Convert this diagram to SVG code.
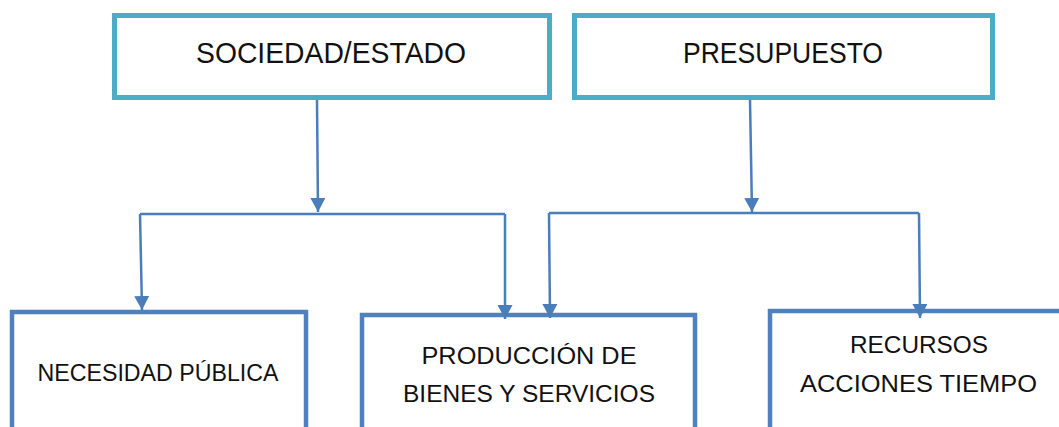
<svg xmlns="http://www.w3.org/2000/svg" width="1059" height="427" viewBox="0 0 1059 427">
<style>
.top{fill:#fff;stroke:#4BACC6;stroke-width:5}
.bot{fill:#fff;stroke:#4F81BD;stroke-width:4.5}
.con{fill:none;stroke:#4A7EBB;stroke-width:2.5}
text{font-family:"Liberation Sans",Arial,sans-serif;fill:#111;text-anchor:middle}
.t1{font-size:30px}
.t2{font-size:24.5px}
</style>
<defs>
<marker id="arr" markerUnits="userSpaceOnUse" markerWidth="15" markerHeight="15" refX="14" refY="7.5" orient="auto">
<path d="M0,0 L14,7.5 L0,15 Z" fill="#4A7EBB"/>
</marker>
</defs>
<g id="node-sociedad">
<rect class="top" x="114.5" y="15.5" width="435" height="82"/>
<text class="t1" x="331" y="63" textLength="270" lengthAdjust="spacingAndGlyphs">SOCIEDAD/ESTADO</text>
</g>
<g id="node-presupuesto">
<rect class="top" x="574.5" y="15.5" width="418" height="82"/>
<text class="t1" x="783" y="63" textLength="200" lengthAdjust="spacingAndGlyphs">PRESUPUESTO</text>
</g>
<g id="node-necesidad">
<rect class="bot" x="12" y="312" width="294" height="130"/>
<text class="t2" x="158" y="381" textLength="241" lengthAdjust="spacingAndGlyphs">NECESIDAD PÚBLICA</text>
</g>
<g id="node-produccion">
<rect class="bot" x="362" y="315" width="333" height="130"/>
<text class="t2" x="529" y="364" textLength="215" lengthAdjust="spacingAndGlyphs">PRODUCCIÓN DE</text>
<text class="t2" x="529" y="402" textLength="252" lengthAdjust="spacingAndGlyphs">BIENES Y SERVICIOS</text>
</g>
<g id="node-recursos">
<rect class="bot" x="770" y="311" width="300" height="130"/>
<text class="t2" x="919" y="353" textLength="138" lengthAdjust="spacingAndGlyphs">RECURSOS</text>
<text class="t2" x="918.5" y="392" textLength="237" lengthAdjust="spacingAndGlyphs">ACCIONES TIEMPO</text>
</g>
<g id="connectors">
<path class="con" d="M317,100 L318,212" marker-end="url(#arr)"/>
<path class="con" d="M140,214 H505"/>
<path class="con" d="M140,214 L142,310" marker-end="url(#arr)"/>
<path class="con" d="M505,214 V319" marker-end="url(#arr)"/>
<path class="con" d="M750,100 L752,212" marker-end="url(#arr)"/>
<path class="con" d="M549,213 H919"/>
<path class="con" d="M549,213 L550,318" marker-end="url(#arr)"/>
<path class="con" d="M919,213 L920,318" marker-end="url(#arr)"/>
</g>
</svg>
